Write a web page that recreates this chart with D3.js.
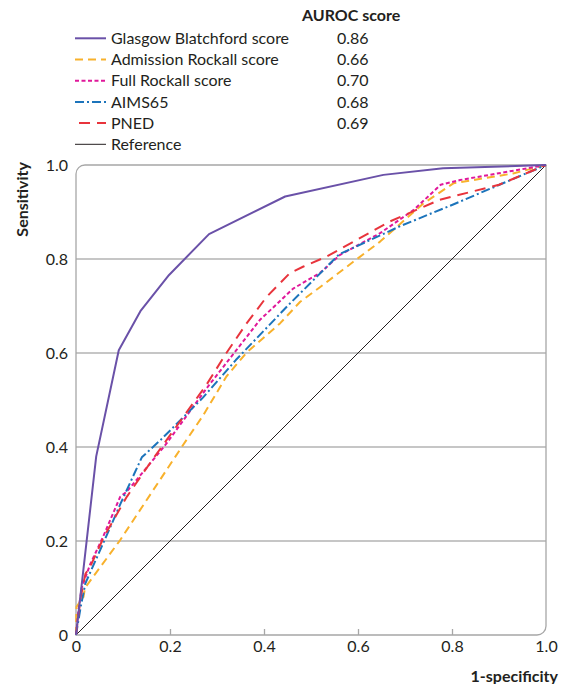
<!DOCTYPE html>
<html>
<head>
<meta charset="utf-8">
<script src="https://cdn.jsdelivr.net/npm/d3@7"></script>
<style>
	body { margin: 0; background: #fff; }
	text { font-family: Lato, "Open Sans", sans-serif; fill: #231f20; }
</style>
</head>
<body>
<div id="chart"></div>
<script>
// Series names and AUROC values shown in the legend
var seriesNames = ["Glasgow Blatchford score", "Admission Rockall score", "Full Rockall score", "AIMS65", "PNED", "Reference"];
var aurocScores = ["0.86", "0.66", "0.70", "0.68", "0.69", ""];

// ROC points: 1-specificity (x) and sensitivity (y)
var glasgowX = [0, 0.043, 0.091, 0.137, 0.198, 0.283, 0.445, 0.654, 0.781, 1];
var glasgowY = [0, 0.38, 0.606, 0.689, 0.766, 0.853, 0.933, 0.979, 0.993, 1];

var admissionX = [0, 0.001, 0.016, 0.019, 0.094, 0.225, 0.271, 0.32, 0.363, 0.434, 0.477, 0.519, 0.59, 0.647, 0.739, 0.803, 0.93, 1];
var admissionY = [0, 0.06, 0.081, 0.10, 0.202, 0.40, 0.468, 0.55, 0.601, 0.663, 0.709, 0.74, 0.794, 0.837, 0.918, 0.961, 0.982, 1];

var fullRockallX = [0, 0.005, 0.012, 0.03, 0.058, 0.094, 0.108, 0.129, 0.193, 0.278, 0.391, 0.462, 0.519, 0.562, 0.647, 0.718, 0.776, 0.817, 1];
var fullRockallY = [0, 0.05, 0.10, 0.15, 0.21, 0.294, 0.305, 0.33, 0.408, 0.525, 0.67, 0.737, 0.77, 0.809, 0.855, 0.904, 0.958, 0.968, 1];

var aimsX = [0, 0.01, 0.02, 0.06, 0.095, 0.14, 0.18, 0.27, 0.34, 0.45, 0.56, 0.69, 0.80, 1];
var aimsY = [0, 0.06, 0.11, 0.20, 0.28, 0.378, 0.415, 0.505, 0.585, 0.70, 0.81, 0.87, 0.915, 1];

var pnedX = [0, 0.01, 0.02, 0.03, 0.06, 0.108, 0.157, 0.193, 0.278, 0.32, 0.363, 0.406, 0.455, 0.484, 0.533, 0.668, 0.774, 0.90, 1];
var pnedY = [0, 0.08, 0.13, 0.145, 0.21, 0.294, 0.365, 0.415, 0.533, 0.60, 0.663, 0.72, 0.77, 0.784, 0.805, 0.88, 0.926, 0.958, 1];

var referenceX = [0, 1];
var referenceY = [0, 1];

var tickValues = [0, 0.2, 0.4, 0.6, 0.8, 1.0];
var tickLabels = ["0", "0.2", "0.4", "0.6", "0.8", "1.0"];

var colors = ["#6a51a8", "#f8b12c", "#e0189a", "#1c74bb", "#e8343c", "#231f20"];
var dashes = [null, "8,5", "4,2.5", "9,3,2,3", "11,7", null];
var widths = [2, 2, 2, 2, 2, 1];

function zipPoints(xs, ys) {
	return xs.map(function(v, i) { return [v, ys[i]]; });
}

var seriesData = [
	zipPoints(glasgowX, glasgowY),
	zipPoints(admissionX, admissionY),
	zipPoints(fullRockallX, fullRockallY),
	zipPoints(aimsX, aimsY),
	zipPoints(pnedX, pnedY),
	zipPoints(referenceX, referenceY)
];

var plot = { left: 76, top: 165, right: 546, bottom: 635 };

var svg = d3.select("#chart")
	.append("svg")
	.attr("width", 569)
	.attr("height", 684);

var x = d3.scaleLinear().domain([0, 1]).range([plot.left, plot.right]);
var y = d3.scaleLinear().domain([0, 1]).range([plot.bottom, plot.top]);

// horizontal gridlines
svg.append("g")
	.selectAll("line")
	.data(tickValues.slice(1, 5))
	.enter()
	.append("line")
		.attr("x1", plot.left)
		.attr("x2", plot.right)
		.attr("y1", function(d) { return y(d); })
		.attr("y2", function(d) { return y(d); })
		.attr("stroke", "#b3b3b3")
		.attr("stroke-width", 1.3);

// frame with rounded top-left and bottom-right corners
var r = 9;
svg.append("path")
	.attr("d", "M" + plot.left + "," + (plot.top + r) +
		"A" + r + "," + r + " 0 0 1 " + (plot.left + r) + "," + plot.top +
		"L" + plot.right + "," + plot.top +
		"L" + plot.right + "," + (plot.bottom - r) +
		"A" + r + "," + r + " 0 0 1 " + (plot.right - r) + "," + plot.bottom +
		"L" + plot.left + "," + plot.bottom + "Z")
	.attr("fill", "none")
	.attr("stroke", "#a7a7a7")
	.attr("stroke-width", 1.3);

// x axis: ticks point inwards
var xAxis = svg.append("g")
	.attr("transform", "translate(0," + plot.bottom + ")")
	.call(d3.axisBottom(x)
		.tickValues(tickValues)
		.tickFormat(function(d, i) { return tickLabels[i]; })
		.tickSize(-6)
		.tickPadding(6));
xAxis.select(".domain").remove();
xAxis.selectAll(".tick line").attr("stroke", "#a7a7a7").attr("stroke-width", 1.3)
	.filter(function(d) { return d === 0 || d === 1; }).remove();
xAxis.selectAll("text").style("font-size", "16px").attr("fill", "#231f20");

// y axis
var yAxis = svg.append("g")
	.attr("transform", "translate(" + plot.left + ",0)")
	.call(d3.axisLeft(y)
		.tickValues(tickValues)
		.tickFormat(function(d, i) { return tickLabels[i]; })
		.tickSize(0)
		.tickPadding(8));
yAxis.select(".domain").remove();
yAxis.selectAll("text").style("font-size", "16px").attr("fill", "#231f20");

// axis titles
svg.append("text")
	.attr("transform", "translate(28," + (plot.top - 3) + ") rotate(-90)")
	.attr("text-anchor", "end")
	.style("font-size", "16px")
	.style("font-weight", "bold")
	.text("Sensitivity");

svg.append("text")
	.attr("x", 558)
	.attr("y", 682)
	.attr("text-anchor", "end")
	.style("font-size", "16px")
	.style("font-weight", "bold")
	.text("1-specificity");

var line = d3.line()
	.x(function(d) { return x(d[0]); })
	.y(function(d) { return y(d[1]); });

// reference first, then the score curves on top
var drawOrder = [5, 1, 2, 3, 4, 0];
svg.append("g")
	.selectAll("path")
	.data(drawOrder)
	.enter()
	.append("path")
		.attr("d", function(i) { return line(seriesData[i]); })
		.attr("fill", "none")
		.attr("stroke", function(i) { return colors[i]; })
		.attr("stroke-width", function(i) { return widths[i]; })
		.attr("stroke-dasharray", function(i) { return dashes[i]; })
		.attr("stroke-linejoin", "round");

// legend
svg.append("text")
	.attr("x", 302)
	.attr("y", 21)
	.style("font-size", "16px")
	.style("font-weight", "bold")
	.text("AUROC score");

var legendRows = svg.append("g")
	.selectAll("g")
	.data(seriesNames)
	.enter()
	.append("g")
		.attr("transform", function(d, i) { return "translate(0," + (38.3 + i * 21.2) + ")"; });

legendRows.append("line")
	.attr("x1", function(d, i) { return i === 4 ? 79 : 75; })
	.attr("x2", 106)
	.attr("stroke", function(d, i) { return colors[i]; })
	.attr("stroke-width", function(d, i) { return widths[i]; })
	.attr("stroke-dasharray", function(d, i) { return dashes[i]; });

legendRows.append("text")
	.attr("x", 111)
	.attr("dy", "0.35em")
	.style("font-size", "16px")
	.text(function(d) { return d; });

legendRows.append("text")
	.attr("x", 337)
	.attr("dy", "0.35em")
	.style("font-size", "16px")
	.text(function(d, i) { return aurocScores[i]; });
</script>
</body>
</html>
